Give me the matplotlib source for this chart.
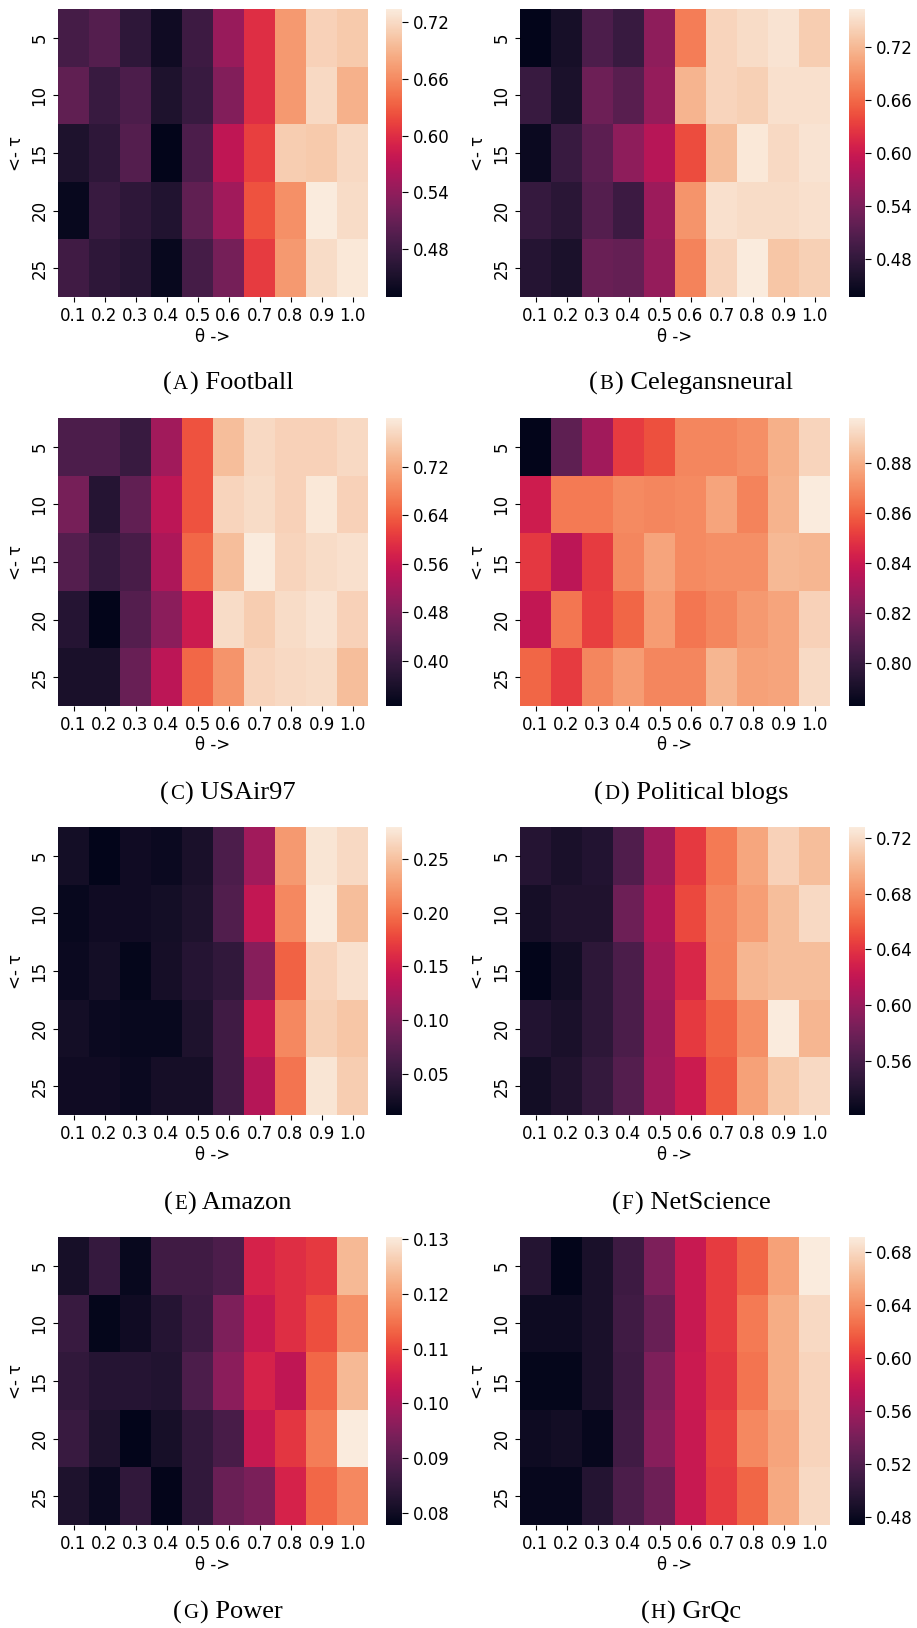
import numpy as np
import matplotlib
matplotlib.use("Agg")
import matplotlib.pyplot as plt
import seaborn as sns
from matplotlib.offsetbox import TextArea, HPacker, AnchoredOffsetbox

theta_labels = ["0.1", "0.2", "0.3", "0.4", "0.5", "0.6", "0.7", "0.8", "0.9", "1.0"]
tau_labels = ["5", "10", "15", "20", "25"]

football = [
    [0.484, 0.496, 0.466, 0.441, 0.478, 0.545, 0.600, 0.670, 0.713, 0.707],
    [0.505, 0.475, 0.490, 0.453, 0.475, 0.530, 0.600, 0.670, 0.719, 0.688],
    [0.453, 0.466, 0.496, 0.429, 0.490, 0.572, 0.612, 0.710, 0.707, 0.719],
    [0.435, 0.475, 0.466, 0.456, 0.505, 0.551, 0.624, 0.664, 0.734, 0.722],
    [0.481, 0.466, 0.460, 0.435, 0.484, 0.520, 0.609, 0.670, 0.722, 0.731],
]
celegans = [
    [0.437, 0.457, 0.502, 0.486, 0.554, 0.675, 0.743, 0.750, 0.756, 0.737],
    [0.486, 0.460, 0.528, 0.512, 0.558, 0.717, 0.743, 0.740, 0.753, 0.753],
    [0.447, 0.486, 0.515, 0.554, 0.584, 0.642, 0.724, 0.760, 0.747, 0.756],
    [0.483, 0.473, 0.509, 0.489, 0.564, 0.691, 0.753, 0.750, 0.750, 0.753],
    [0.470, 0.460, 0.525, 0.522, 0.558, 0.678, 0.743, 0.763, 0.730, 0.740],
]
usair = [
    [0.420, 0.420, 0.396, 0.515, 0.629, 0.743, 0.776, 0.767, 0.767, 0.776],
    [0.468, 0.373, 0.444, 0.544, 0.629, 0.772, 0.781, 0.767, 0.795, 0.767],
    [0.430, 0.392, 0.415, 0.529, 0.648, 0.743, 0.800, 0.772, 0.781, 0.786],
    [0.373, 0.325, 0.430, 0.491, 0.563, 0.781, 0.762, 0.781, 0.790, 0.767],
    [0.358, 0.358, 0.453, 0.544, 0.648, 0.696, 0.772, 0.776, 0.781, 0.743],
]
polblogs = [
    [0.7827, 0.811, 0.829, 0.851, 0.856, 0.869, 0.869, 0.871, 0.880, 0.891],
    [0.841, 0.866, 0.866, 0.870, 0.869, 0.870, 0.877, 0.868, 0.881, 0.898],
    [0.850, 0.836, 0.851, 0.869, 0.877, 0.870, 0.871, 0.871, 0.883, 0.882],
    [0.838, 0.865, 0.852, 0.861, 0.875, 0.865, 0.869, 0.874, 0.877, 0.890],
    [0.861, 0.851, 0.869, 0.875, 0.869, 0.869, 0.882, 0.876, 0.877, 0.893],
]
amazon = [
    [0.025, 0.0113, 0.022, 0.019, 0.030, 0.065, 0.119, 0.224, 0.275, 0.267],
    [0.017, 0.022, 0.022, 0.025, 0.033, 0.068, 0.140, 0.213, 0.280, 0.248],
    [0.019, 0.025, 0.014, 0.027, 0.038, 0.046, 0.103, 0.191, 0.264, 0.272],
    [0.025, 0.019, 0.017, 0.017, 0.033, 0.057, 0.143, 0.213, 0.261, 0.253],
    [0.022, 0.022, 0.019, 0.027, 0.027, 0.057, 0.132, 0.202, 0.275, 0.258],
]
netscience = [
    [0.542, 0.535, 0.540, 0.564, 0.604, 0.643, 0.670, 0.691, 0.714, 0.703],
    [0.533, 0.538, 0.538, 0.579, 0.612, 0.649, 0.675, 0.687, 0.703, 0.718],
    [0.521, 0.531, 0.546, 0.562, 0.606, 0.633, 0.674, 0.699, 0.703, 0.703],
    [0.540, 0.535, 0.546, 0.562, 0.602, 0.643, 0.660, 0.680, 0.728, 0.699],
    [0.531, 0.538, 0.550, 0.567, 0.604, 0.625, 0.656, 0.689, 0.709, 0.718],
]
power = [
    [0.0810, 0.0852, 0.0789, 0.0867, 0.0867, 0.0883, 0.1057, 0.1073, 0.1088, 0.1236],
    [0.0857, 0.0783, 0.0799, 0.0831, 0.0862, 0.0946, 0.1036, 0.1073, 0.1109, 0.1183],
    [0.0846, 0.0831, 0.0831, 0.0825, 0.0883, 0.0962, 0.1057, 0.1025, 0.1136, 0.1236],
    [0.0857, 0.0820, 0.0778, 0.0810, 0.0846, 0.0878, 0.1036, 0.1083, 0.1162, 0.1304],
    [0.0820, 0.0794, 0.0846, 0.0781, 0.0846, 0.0920, 0.0941, 0.1057, 0.1136, 0.1173],
]
grqc = [
    [0.495, 0.474, 0.489, 0.509, 0.543, 0.580, 0.602, 0.621, 0.650, 0.691],
    [0.482, 0.482, 0.489, 0.511, 0.532, 0.580, 0.602, 0.630, 0.656, 0.680],
    [0.476, 0.476, 0.489, 0.509, 0.543, 0.582, 0.600, 0.628, 0.656, 0.678],
    [0.482, 0.485, 0.478, 0.511, 0.548, 0.580, 0.604, 0.637, 0.652, 0.678],
    [0.478, 0.478, 0.495, 0.517, 0.535, 0.580, 0.602, 0.621, 0.654, 0.680],
]

panels = [
    ("A", "Football", football, [0.48, 0.54, 0.60, 0.66, 0.72]),
    ("B", "Celegansneural", celegans, [0.48, 0.54, 0.60, 0.66, 0.72]),
    ("C", "USAir97", usair, [0.40, 0.48, 0.56, 0.64, 0.72]),
    ("D", "Political blogs", polblogs, [0.80, 0.82, 0.84, 0.86, 0.88]),
    ("E", "Amazon", amazon, [0.05, 0.10, 0.15, 0.20, 0.25]),
    ("F", "NetScience", netscience, [0.56, 0.60, 0.64, 0.68, 0.72]),
    ("G", "Power", power, [0.08, 0.09, 0.10, 0.11, 0.12, 0.13]),
    ("H", "GrQc", grqc, [0.48, 0.52, 0.56, 0.60, 0.64, 0.68]),
]

W, H = 917, 1628
fig = plt.figure(figsize=(W / 100, H / 100), dpi=100)
plt.rcParams['font.family'] = ['DejaVu Sans']

fs = 12
row_tops = [9, 418, 827, 1237]
cap_y = [383, 793, 1203, 1612]
col_hm_x = [58, 520]
col_cb_x = [386, 849]
cap_x = [228, 691]
hm_w, hm_h = 310, 288
cb_w = 16


def frac_rect(x, ytop, w, h):
    return [x / W, 1 - (ytop + h) / H, w / W, h / H]


for i, (letter, name, data, ticks) in enumerate(panels):
    r, c = divmod(i, 2)
    ax = fig.add_axes(frac_rect(col_hm_x[c], row_tops[r], hm_w, hm_h))
    cax = fig.add_axes(frac_rect(col_cb_x[c], row_tops[r], cb_w, hm_h))
    arr = np.array(data)
    sns.heatmap(arr, ax=ax, cbar_ax=cax, cmap="rocket",
                xticklabels=theta_labels, yticklabels=tau_labels)
    ax.set_xticklabels(theta_labels, rotation=0, fontsize=fs)
    ax.set_yticklabels(tau_labels, rotation=90, fontsize=fs, va="center")
    ax.set_xlabel("θ ->", fontsize=fs, labelpad=2)
    ax.set_ylabel("<- τ", fontsize=fs, labelpad=4)
    cax.set_yticks(ticks)
    cax.set_yticklabels([f"{t:.2f}" for t in ticks], fontsize=fs)
    cax.tick_params(length=4)

    parts = [
        TextArea("(", textprops=dict(family="Liberation Serif", size=19)),
        TextArea(letter, textprops=dict(family="Liberation Serif", size=15)),
        TextArea(") " + name, textprops=dict(family="Liberation Serif", size=19)),
    ]
    box = HPacker(children=parts, align="baseline", pad=0, sep=1)
    anch = AnchoredOffsetbox(loc="center", child=box, pad=0, frameon=False,
                             bbox_to_anchor=(cap_x[c] / W, 1 - cap_y[r] / H),
                             bbox_transform=fig.transFigure, borderpad=0)
    fig.add_artist(anch)

fig.savefig("out.png", dpi=100)
